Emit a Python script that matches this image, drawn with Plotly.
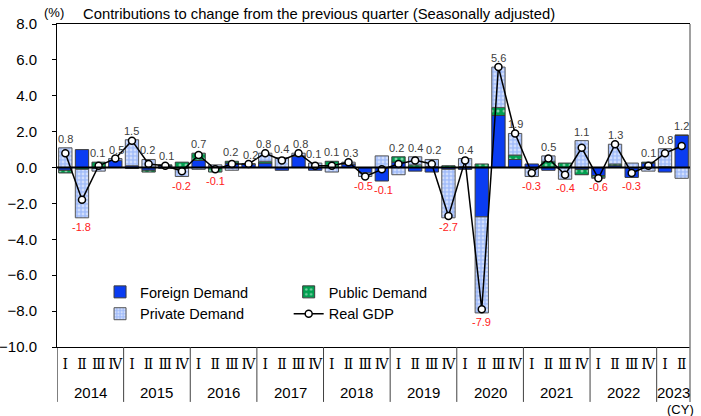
import plotly.graph_objects as go

# ---- data -------------------------------------------------------------
years = ["2014", "2015", "2016", "2017", "2018", "2019", "2020", "2021", "2022", "2023"]
quarter_labels = ["Ⅰ", "Ⅱ", "Ⅲ", "Ⅳ"] * 9 + ["Ⅰ", "Ⅱ"]

foreign_demand = [-0.15, 1.0, -0.05, 0.4,
                  0.1, -0.15, 0.1, -0.05,
                  0.4, 0.05, 0.25, 0.2,
                  0.25, -0.15, 0.65, -0.15,
                  0.0, 0.2, -0.3, -0.75,
                  0.3, -0.2, -0.25, -0.1,
                  -0.1, -2.75, 2.9, 0.45,
                  0.2, -0.15, 0.0, -0.1,
                  -0.45, 0.1, -0.55, 0.25,
                  -0.25, 1.8]
public_demand = [-0.15, -0.1, 0.3, 0.0,
                 -0.05, -0.1, 0.05, 0.3,
                 0.4, -0.25, 0.1, 0.0,
                 0.1, 0.0, 0.0, 0.0,
                 0.35, 0.0, 0.0, 0.0,
                 0.3, 0.15, 0.05, 0.1,
                 0.05, 0.2, 0.45, 0.25,
                 -0.05, 0.35, 0.25, -0.3,
                 -0.1, 0.1, 0.0, 0.05,
                 0.05, 0.0]
private_demand = [1.1, -2.7, -0.15, 0.1,
                  1.45, 0.45, -0.05, -0.45,
                  -0.1, 0.1, -0.15, 0.0,
                  0.45, 0.55, 0.15, 0.25,
                  -0.25, 0.1, -0.2, 0.65,
                  -0.4, 0.45, 0.4, -2.7,
                  0.45, -5.35, 2.25, 1.2,
                  -0.45, 0.3, -0.65, 1.5,
                  -0.05, 1.1, 0.25, -0.2,
                  1.0, -0.6]
real_gdp = [0.8, -1.8, 0.1, 0.5,
            1.5, 0.2, 0.1, -0.2,
            0.7, -0.1, 0.2, 0.2,
            0.8, 0.4, 0.8, 0.1,
            0.1, 0.3, -0.5, -0.1,
            0.2, 0.4, 0.2, -2.7,
            0.4, -7.9, 5.6, 1.9,
            -0.3, 0.5, -0.4, 1.1,
            -0.6, 1.3, -0.3, 0.1,
            0.8, 1.2]

y_ticks = [-10, -8, -6, -4, -2, 0, 2, 4, 6, 8]

# ---- figure -----------------------------------------------------------
FONT = "Liberation Sans, Arial, sans-serif"
xs = list(range(len(real_gdp)))
border = dict(color="#3a3a3a", width=1)

fig = go.Figure()
fig.add_trace(go.Bar(
    x=xs, y=foreign_demand, name="Foreign Demand", width=0.8, legend="legend",
    marker=dict(color="#0a3cf2", line=border),
))
fig.add_trace(go.Bar(
    x=xs, y=public_demand, name="Public Demand", width=0.8, legend="legend2",
    marker=dict(color="#00a050", line=border,
                pattern=dict(shape=".", bgcolor="#00a050", fgcolor="#ffffff",
                             size=6, solidity=0.2)),
))
fig.add_trace(go.Bar(
    x=xs, y=private_demand, name="Private Demand", width=0.8, legend="legend",
    marker=dict(color="#b3c8f8", line=dict(color="#555555", width=1),
                pattern=dict(shape=".", bgcolor="#a3bdf9", fgcolor="#ffffff",
                             size=4, solidity=0.4)),
))
fig.add_trace(go.Scatter(
    x=xs, y=real_gdp, name="Real GDP", mode="lines+markers", legend="legend2",
    line=dict(color="#000000", width=1.5),
    marker=dict(symbol="circle", size=7, color="#ffffff",
                line=dict(color="#000000", width=1.5)),
))

# value labels above/below the stacked bars
annotations = []
for i, g in enumerate(real_gdp):
    parts = [foreign_demand[i], public_demand[i], private_demand[i]]
    if g >= 0:
        top = max(sum(p for p in parts if p > 0), g)
        annotations.append(dict(x=i, y=top, text=f"{g:.1f}", showarrow=False,
                                yanchor="bottom", yshift=1,
                                font=dict(family=FONT, size=11, color="#404040")))
    else:
        bottom = min(sum(p for p in parts if p < 0), g)
        annotations.append(dict(x=i, y=bottom, text=f"{g:.1f}", showarrow=False,
                                yanchor="top", yshift=-1,
                                font=dict(family=FONT, size=11, color="#ff2020")))

# pull apart neighbouring labels that sit at the same height
for i in range(len(real_gdp) - 1):
    a, b = annotations[i], annotations[i + 1]
    if a["yanchor"] == b["yanchor"] and abs(a["y"] - b["y"]) < 0.4:
        a["xshift"] = a.get("xshift", 0) - 1.5
        b["xshift"] = b.get("xshift", 0) + 1.5

# year labels and separators under the quarter row
shapes = []
start = 0
for yr in years:
    n = 4 if yr != "2023" else 2
    annotations.append(dict(x=start + (n - 1) / 2, y=-0.142, xref="x", yref="paper",
                            text=yr, showarrow=False, yanchor="middle",
                            font=dict(family=FONT, size=15, color="#000000")))
    if start > 0:
        shapes.append(dict(type="line", xref="x", yref="paper", x0=start - 0.5, x1=start - 0.5,
                           y0=0, y1=-0.17, line=dict(color="#404040", width=1)))
    start += n

shapes.append(dict(type="line", xref="x", yref="paper", x0=-0.5, x1=-0.5,
                   y0=0, y1=-0.17, line=dict(color="#000000", width=1)))
shapes.append(dict(type="line", xref="paper", yref="paper", x0=1, x1=1,
                   y0=-0.17, y1=1, line=dict(color="#808080", width=1.5)))
shapes.append(dict(type="line", xref="paper", yref="y", x0=0, x1=1,
                   y0=0, y1=0, layer="above", line=dict(color="#000000", width=2)))

annotations += [
    dict(x=-0.005, y=1.0, xref="paper", yref="paper", xanchor="center", yanchor="bottom",
         text="(%)", showarrow=False, yshift=2, font=dict(family=FONT, size=13, color="#000000")),
    dict(x=0.038, y=1.0, xref="paper", yref="paper", xanchor="left", yanchor="bottom",
         text="Contributions to change from the previous quarter (Seasonally adjusted)",
         showarrow=False, font=dict(family=FONT, size=14.8, color="#000000")),
    dict(x=1.0, y=-0.194, xref="paper", yref="paper", xanchor="right", yanchor="middle",
         xshift=6, text="(CY)", showarrow=False, font=dict(family=FONT, size=13, color="#000000")),
    dict(x=0.0, y=-0.2, xref="paper", yref="paper", xanchor="left", yanchor="top",
         text="Source: Cabinet Office", showarrow=False,
         font=dict(family=FONT, size=12, color="#000000")),
]

legend_style = dict(orientation="v", y=0.22, xanchor="left", yanchor="top",
                    bgcolor="rgba(0,0,0,0)", tracegroupgap=0, itemwidth=30,
                    font=dict(family=FONT, size=14.5, color="#000000"))

fig.update_layout(
    width=701, height=416,
    barmode="relative", bargap=0.2,
    paper_bgcolor="#ffffff", plot_bgcolor="#ffffff",
    margin=dict(l=57, r=11, t=24, b=69, autoexpand=False),
    font=dict(family=FONT, size=14, color="#000000"),
    showlegend=True,
    legend=dict(x=0.068, **legend_style),
    legend2=dict(x=0.366, **legend_style),
    xaxis=dict(range=[-0.5, 37.5], tickvals=xs, ticktext=quarter_labels, ticks="",
               tickangle=0, showgrid=False, zeroline=False, automargin=False,
               showline=True, linecolor="#000000", linewidth=1, mirror=True,
               ticklabelstandoff=4,
               tickfont=dict(family="DejaVu Serif, Noto Serif, serif", size=14, color="#000000")),
    yaxis=dict(range=[-10, 8], tickvals=y_ticks, tickformat=".1f", ticks="outside",
               ticklen=4, tickcolor="#000000", showgrid=False, zeroline=False,
               showline=True, linecolor="#000000", linewidth=1, automargin=False,
               ticklabelstandoff=12,
               tickfont=dict(family=FONT, size=15, color="#000000")),
    annotations=annotations,
    shapes=shapes,
)

fig.write_html("out.html", config={"displayModeBar": False},
               post_script="document.body.style.margin='0';")
